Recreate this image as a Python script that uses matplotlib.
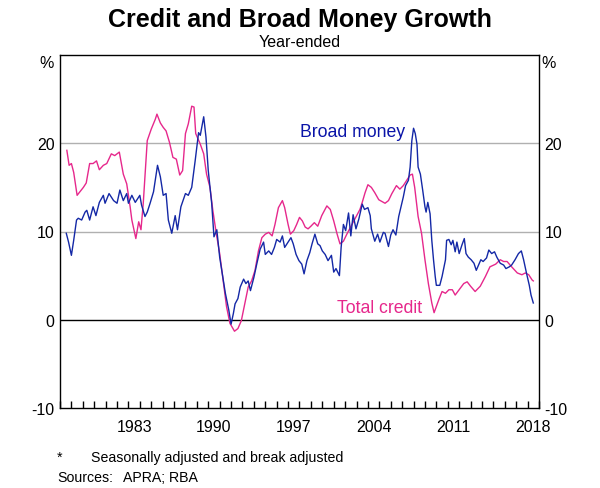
import matplotlib
matplotlib.use('Agg')
import matplotlib.pyplot as plt

plt.rcParams['font.family'] = ['Liberation Sans', 'DejaVu Sans']

# Total credit, year-ended %
credit_year = [1977.6, 1977.8, 1978.0, 1978.2, 1978.5, 1978.75, 1979.05, 1979.3, 1979.6, 1979.9,
               1980.2, 1980.45, 1980.8, 1981.1, 1981.5, 1981.8, 1982.2, 1982.55, 1982.85, 1983.15,
               1983.3, 1983.65, 1983.9, 1984.1, 1984.3, 1984.65, 1985.0, 1985.35, 1985.5, 1985.8,
               1986.05, 1986.3, 1986.6, 1986.9, 1987.2, 1987.5, 1987.75, 1988.0, 1988.25, 1988.55,
               1988.75, 1988.9, 1989.3, 1989.6, 1989.85, 1990.15, 1990.4, 1990.7, 1991.0, 1991.3,
               1991.6, 1991.9, 1992.3, 1992.6, 1992.9, 1993.2, 1993.5, 1993.8, 1994.1, 1994.4,
               1994.7, 1995.0, 1995.3, 1995.6, 1995.85, 1996.15, 1996.5, 1996.7, 1997.0, 1997.2,
               1997.5, 1997.75, 1998.0, 1998.25, 1998.5, 1998.75, 1999.0, 1999.3, 1999.6, 1999.95,
               2000.4, 2000.7, 2001.0, 2001.3, 2001.55, 2001.85, 2002.15, 2002.6, 2003.0, 2003.3,
               2003.5, 2003.75, 2004.0, 2004.3, 2004.6, 2004.95, 2005.35, 2005.5, 2005.8, 2006.1,
               2006.5, 2006.8, 2007.1, 2007.4, 2007.7, 2007.9, 2008.1, 2008.4, 2008.7, 2009.0,
               2009.3, 2009.6, 2009.8, 2010.0, 2010.25, 2010.5, 2010.8, 2011.1, 2011.4, 2011.65,
               2012.0, 2012.4, 2012.7, 2013.0, 2013.4, 2013.85, 2014.3, 2014.7, 2015.2, 2015.6,
               2015.9, 2016.2, 2016.6, 2017.1, 2017.5, 2017.8, 2018.1, 2018.4, 2018.5]
credit_val = [19.2, 17.5, 17.7, 16.7, 14.1, 14.5, 15.0, 15.5, 17.7, 17.7,
              18.0, 17.0, 17.5, 17.7, 18.8, 18.6, 19.0, 16.5, 15.4, 12.8,
              11.3, 9.2, 11.1, 10.2, 13.2, 20.3, 21.6, 22.7, 23.3, 22.3,
              21.8, 21.4, 20.1, 18.4, 18.2, 16.4, 16.9, 21.1, 22.2, 24.2,
              24.1, 21.1, 19.9, 18.8, 16.5, 15.0, 12.4, 9.8, 7.5, 4.5,
              1.5, -0.4, -1.3, -1.0, -0.1, 1.8, 3.7, 4.4, 5.6, 7.8,
              9.3, 9.7, 9.9, 9.5, 10.8, 12.7, 13.5, 12.7, 10.8, 9.7,
              10.1, 10.8, 11.6, 11.2, 10.5, 10.3, 10.6, 11.0, 10.6, 11.8,
              12.9, 12.5, 11.2, 9.7, 8.6, 8.9, 9.7, 10.8, 11.8, 12.5,
              13.3, 14.4, 15.3, 15.0, 14.4, 13.6, 13.3, 13.2, 13.5, 14.3,
              15.2, 14.8, 15.2, 15.8, 16.4, 16.5, 15.0, 11.7, 9.8, 6.8,
              4.1, 1.9, 0.8, 1.5, 2.4, 3.2, 3.0, 3.4, 3.4, 2.8,
              3.4, 4.1, 4.3, 3.8, 3.2, 3.8, 4.9, 6.0, 6.3, 6.8,
              6.6, 6.6, 6.0, 5.3, 5.1, 5.3, 5.1, 4.5, 4.4]

# Broad money, year-ended %
money_year = [1977.55, 1977.75, 1978.0, 1978.2, 1978.45, 1978.6, 1978.9, 1979.2, 1979.35, 1979.6,
              1979.9, 1980.15, 1980.45, 1980.8, 1980.95, 1981.3, 1981.7, 1982.0, 1982.25, 1982.55,
              1982.85, 1983.0, 1983.3, 1983.6, 1984.0, 1984.15, 1984.45, 1984.65, 1984.9, 1985.2,
              1985.55, 1985.8, 1986.05, 1986.3, 1986.5, 1986.8, 1987.1, 1987.3, 1987.6, 1988.0,
              1988.25, 1988.55, 1988.85, 1989.15, 1989.3, 1989.6, 1989.8, 1990.0, 1990.3, 1990.5,
              1990.75, 1991.0, 1991.5, 1991.8, 1992.0, 1992.2, 1992.35, 1992.6, 1992.8, 1993.1,
              1993.3, 1993.5, 1993.7, 1994.0, 1994.25, 1994.55, 1994.85, 1995.0, 1995.3, 1995.55,
              1995.8, 1996.0, 1996.3, 1996.5, 1996.7, 1997.0, 1997.25, 1997.45, 1997.7, 1997.95,
              1998.2, 1998.4, 1998.65, 1998.9, 1999.1, 1999.35, 1999.6, 1999.8, 2000.0, 2000.25,
              2000.5, 2000.8, 2001.0, 2001.2, 2001.5, 2001.65, 2001.85, 2002.05, 2002.3, 2002.5,
              2002.7, 2002.95, 2003.2, 2003.5, 2003.7, 2004.0, 2004.2, 2004.3, 2004.6, 2004.85,
              2005.05, 2005.35, 2005.5, 2005.8, 2006.0, 2006.2, 2006.45, 2006.7, 2006.9, 2007.1,
              2007.3, 2007.55, 2007.7, 2007.85, 2008.0, 2008.15, 2008.3, 2008.4, 2008.6, 2008.8,
              2009.0, 2009.1, 2009.25, 2009.45, 2009.6, 2009.75, 2009.9, 2010.0, 2010.3, 2010.5,
              2010.8, 2010.9, 2011.1, 2011.3, 2011.45, 2011.65, 2011.8, 2012.0, 2012.25, 2012.45,
              2012.6, 2012.8, 2013.05, 2013.3, 2013.5, 2013.7, 2013.9, 2014.1, 2014.4, 2014.6,
              2014.85, 2015.1, 2015.3, 2015.6, 2015.9, 2016.1, 2016.4, 2016.6, 2016.9, 2017.2,
              2017.45, 2017.65, 2017.9, 2018.15, 2018.3, 2018.5]
money_val = [9.8, 8.8, 7.3, 9.0, 11.3, 11.5, 11.3, 12.2, 12.4, 11.3,
             12.8, 11.8, 13.3, 14.1, 13.2, 14.3, 13.5, 13.2, 14.7, 13.5,
             14.3, 13.2, 14.1, 13.3, 14.1, 13.0, 11.7, 12.2, 13.2, 14.5,
             17.5, 16.2, 14.1, 14.3, 11.3, 9.8, 11.8, 10.2, 12.8, 14.3,
             14.1, 15.0, 18.0, 21.2, 20.9, 23.0, 20.7, 16.9, 13.2, 9.4,
             10.2, 7.1, 3.0, 1.1, -0.5, 0.7, 1.8, 2.4, 3.7, 4.6,
             4.1, 4.4, 3.3, 4.8, 6.3, 8.0, 8.8, 7.4, 7.8, 7.4,
             8.2, 9.1, 8.8, 9.5, 8.2, 8.8, 9.3, 8.6, 7.4, 6.7,
             6.3, 5.2, 6.7, 7.6, 8.6, 9.7, 8.6, 8.4, 7.8, 7.4,
             6.7, 7.3, 5.4, 5.8, 5.0, 8.2, 10.8, 10.1, 12.1, 9.5,
             11.9, 10.3, 11.4, 13.1, 12.5, 12.7, 11.8, 10.3, 8.9, 9.7,
             8.8, 9.9, 9.8, 8.3, 9.6, 10.2, 9.6, 11.7, 12.8, 13.9,
             15.2, 15.8, 17.3, 20.3, 21.7, 21.1, 19.9, 17.3, 16.5, 14.7,
             12.8, 12.2, 13.3, 12.0, 9.0, 6.8, 4.9, 3.9, 3.9, 4.9,
             6.8, 9.0, 9.1, 8.5, 9.0, 7.7, 8.8, 7.5, 8.5, 9.2,
             7.5, 7.1, 6.8, 6.4, 5.6, 6.2, 6.8, 6.6, 7.0, 7.9,
             7.5, 7.7, 7.1, 6.4, 6.2, 5.8, 6.0, 6.2, 6.8, 7.5,
             7.8, 6.8, 5.3, 3.9, 2.8, 1.9]

year_labels = ['1983', '1990', '1997', '2004', '2011', '2018']
y_ticks = [-10, 0, 10, 20]

blue = '#1428a6'
pink = '#e6288c'

fig = plt.figure(figsize=(6, 4.89), dpi=100)
ax = fig.add_axes([0.1, 1 - 409/489, 479/600, 353/489])

for v in [10, 20]:
    ax.axhline(v, color='#b0b0b0', lw=1, zorder=1)
ax.axhline(0, color='black', lw=1, zorder=1)

ax.plot(credit_year, credit_val, color=pink, lw=1.0, zorder=3)
ax.plot(money_year, money_val, color=blue, lw=1.0, zorder=4)

ax.set_xlim(1977, 2019)
ax.set_ylim(-10, 30)

# year ticks inside the bottom axis, labels centred on each year
ax.set_xticks(range(1977, 2020))
ax.set_xticklabels([])
ax.tick_params(axis='x', which='major', direction='in', length=5, width=1, top=False)
ax.set_xticks([int(s) + 0.5 for s in year_labels], minor=True)
ax.set_xticklabels(year_labels, minor=True)
ax.tick_params(axis='x', which='minor', length=0, pad=8, labelsize=11.5)

ax.set_yticks(y_ticks)
ax.set_yticklabels([str(t) for t in y_ticks])
ax.tick_params(axis='y', length=0, labelsize=11.5, labelleft=True, labelright=True, pad=4)

for s in ax.spines.values():
    s.set_linewidth(1)
    s.set_color('black')

fig.text(54/600, 1 - 64/489, '%', ha='right', va='center', fontsize=11.5)
fig.text(541/600, 1 - 64/489, '%', ha='left', va='center', fontsize=11.5)

ax.text(1998.05, 20.8, 'Broad money', color='#0a14a8', fontsize=12.7)
ax.text(2001.25, 0.86, 'Total credit', color=pink, fontsize=12.7)

fig.text(0.5, 1 - 27/489, 'Credit and Broad Money Growth', ha='center', va='baseline',
         fontsize=18, fontweight='bold')
fig.text(0.5, 1 - 47/489, 'Year-ended', ha='center', va='baseline', fontsize=11.5)

fig.text(57/600, 1 - 462/489, '*', fontsize=10.2, va='baseline')
fig.text(91/600, 1 - 462/489, 'Seasonally adjusted and break adjusted', fontsize=10.2, va='baseline')
fig.text(57/600, 1 - 482/489, 'Sources:', fontsize=10.2, va='baseline')
fig.text(123/600, 1 - 482/489, 'APRA; RBA', fontsize=10.2, va='baseline')

fig.savefig('out.png', dpi=100)
